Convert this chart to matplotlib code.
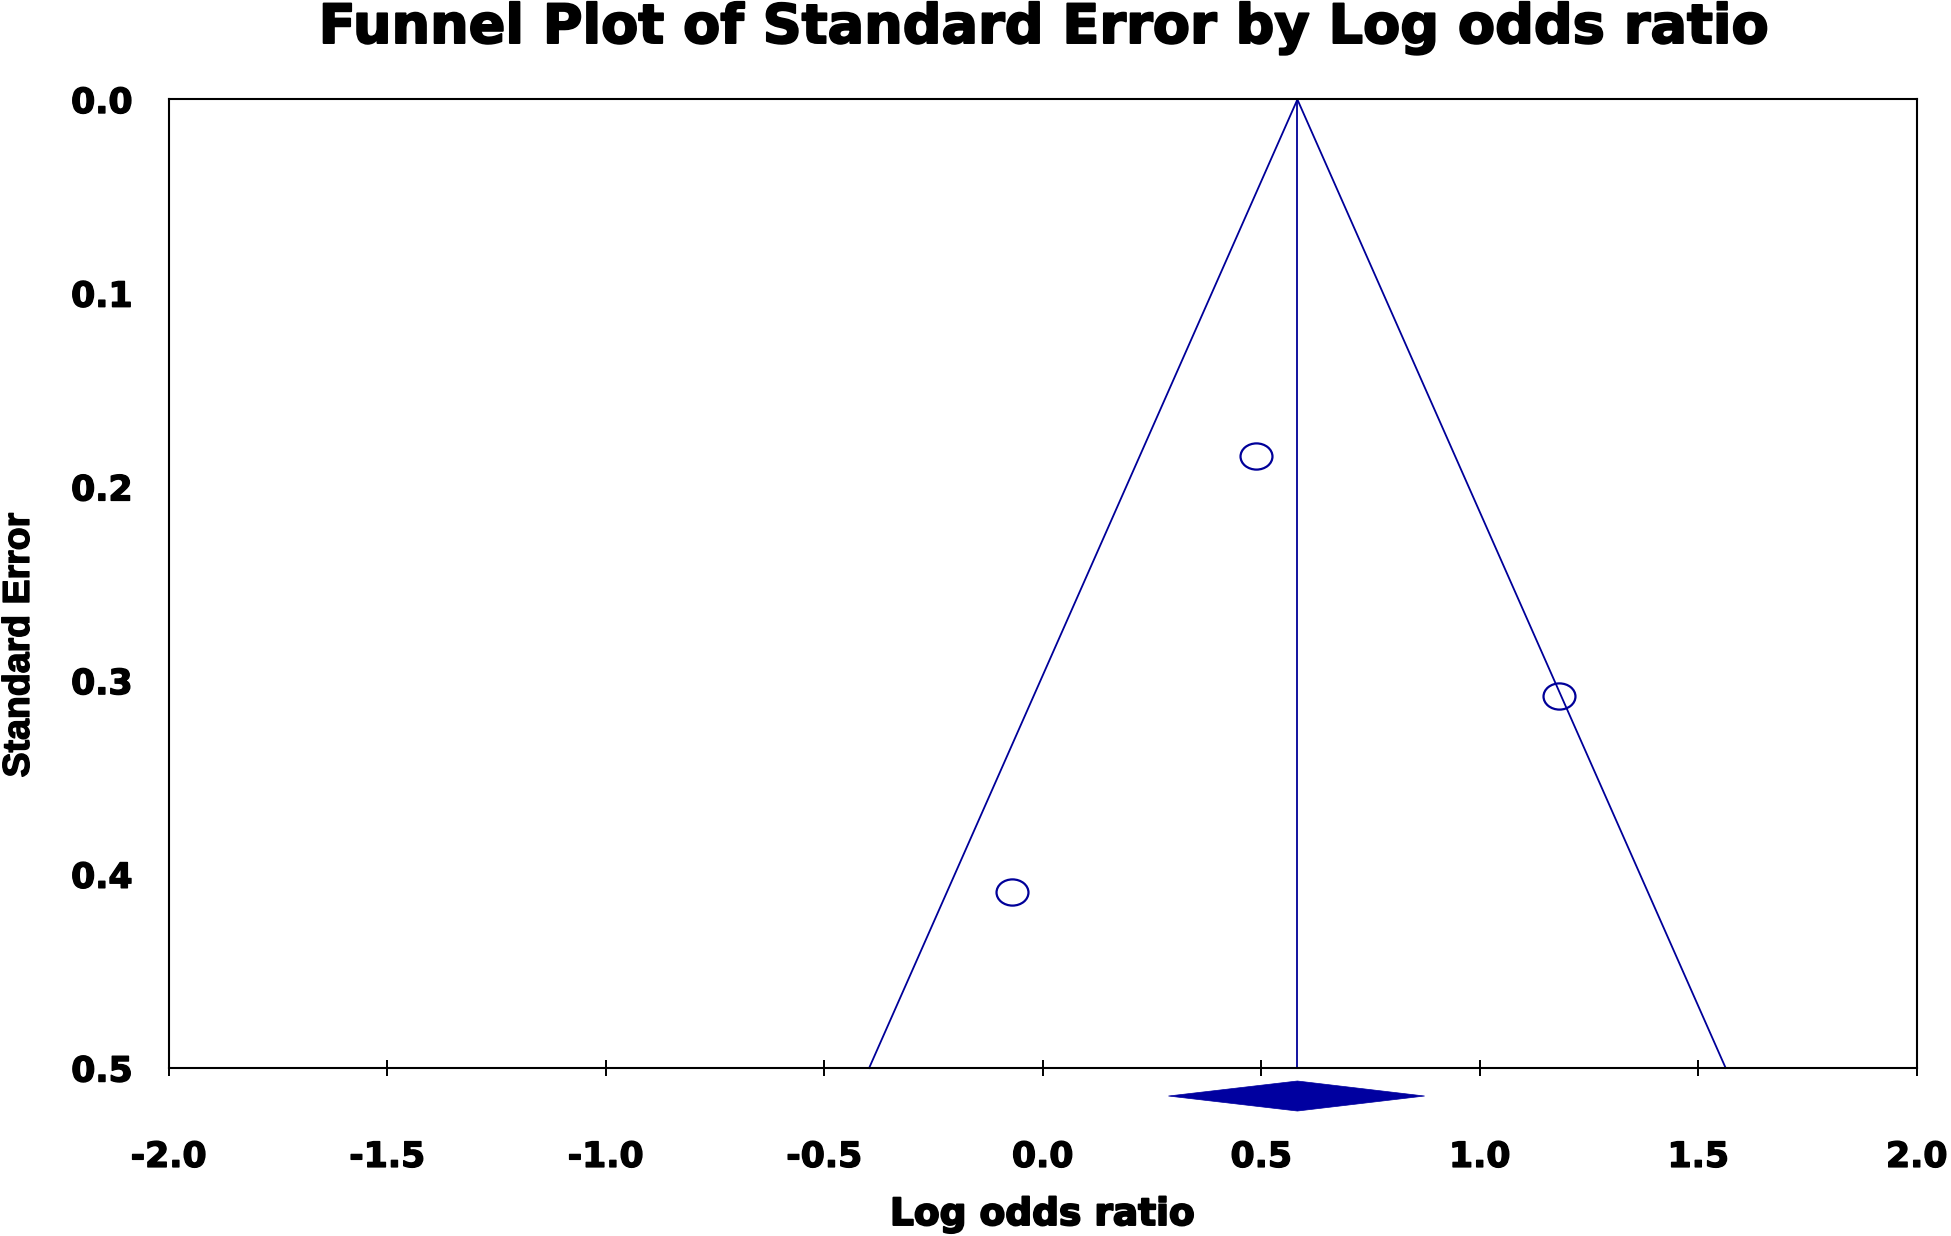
import matplotlib.pyplot as plt
import matplotlib.patheffects as pe
from matplotlib.markers import MarkerStyle
from matplotlib.transforms import Affine2D, blended_transform_factory
from matplotlib.patches import Polygon

# study estimates
log_or = [0.489, 1.181, -0.069]
std_err = [0.184, 0.308, 0.409]

# pooled estimate and its confidence interval (diamond)
pooled = 0.583
ci_low, ci_high = 0.288, 0.874
se_max = 0.5

x_ticks = [-2.0, -1.5, -1.0, -0.5, 0.0, 0.5, 1.0, 1.5, 2.0]
y_ticks = [0.0, 0.1, 0.2, 0.3, 0.4, 0.5]

navy = '#000099'
heavy = [pe.withStroke(linewidth=1.4, foreground='black')]

fig = plt.figure(figsize=(19.51, 12.36), dpi=100)
ax = fig.add_axes([0.0864, 0.1359, 0.8960, 0.7836])

# funnel (pseudo 95% limits) and pooled line
ax.plot([pooled - 1.96 * se_max, pooled, pooled + 1.96 * se_max],
        [se_max, 0, se_max], color=navy, lw=1.3, clip_on=False)
ax.plot([pooled, pooled], [0, se_max], color=navy, lw=1.3)

# studies as open ellipses
ell = MarkerStyle('o', transform=Affine2D().scale(1.0, 0.82))
ax.plot(log_or, std_err, linestyle='none', marker=ell, markersize=23,
        markerfacecolor='none', markeredgecolor=navy, markeredgewidth=1.6)

# diamond for the combined effect, below the axis
trans = blended_transform_factory(ax.transData, ax.transAxes)
diamond = Polygon([[ci_low, -0.0289], [pooled, -0.0134],
                   [ci_high, -0.0289], [pooled, -0.0444]],
                  closed=True, transform=trans, clip_on=False,
                  facecolor='#0000a0', edgecolor='#0000a0', lw=0.5)
ax.add_patch(diamond)

ax.set_xlim(-2.0, 2.0)
ax.set_ylim(0.5, 0.0)
ax.set_xticks(x_ticks)
ax.set_yticks(y_ticks)
ax.set_xticklabels([f'{t:.1f}' for t in x_ticks])
ax.set_yticklabels([f'{t:.1f}' for t in y_ticks])

for sp in ax.spines.values():
    sp.set_linewidth(1.5)

ax.tick_params(axis='x', direction='inout', length=11.5, width=1.4, pad=46,
               labelsize=25)
ax.tick_params(axis='y', length=0, pad=26, labelsize=25)
for lab in ax.get_xticklabels() + ax.get_yticklabels():
    lab.set_fontweight('bold')
    lab.set_family('DejaVu Sans')
    lab.set_path_effects([pe.withStroke(linewidth=1.0, foreground='black')])

fig.text(0.5345, 0.9652, 'Funnel Plot of Standard Error by Log odds ratio',
         ha='center', va='baseline', fontsize=39, fontweight='bold',
         family='DejaVu Sans', path_effects=heavy)
fig.text(0.5343, 0.0089, 'Log odds ratio', ha='center', va='baseline',
         fontsize=27, fontweight='bold', family='DejaVu Sans',
         path_effects=heavy)
fig.text(0.0097, 0.478, 'Standard Error', ha='center', va='center',
         rotation=90, fontsize=27, fontweight='bold',
         family=['Liberation Sans Narrow', 'Liberation Sans'],
         path_effects=[pe.withStroke(linewidth=1.0, foreground='black')])

fig.savefig('out.png', dpi=100)
